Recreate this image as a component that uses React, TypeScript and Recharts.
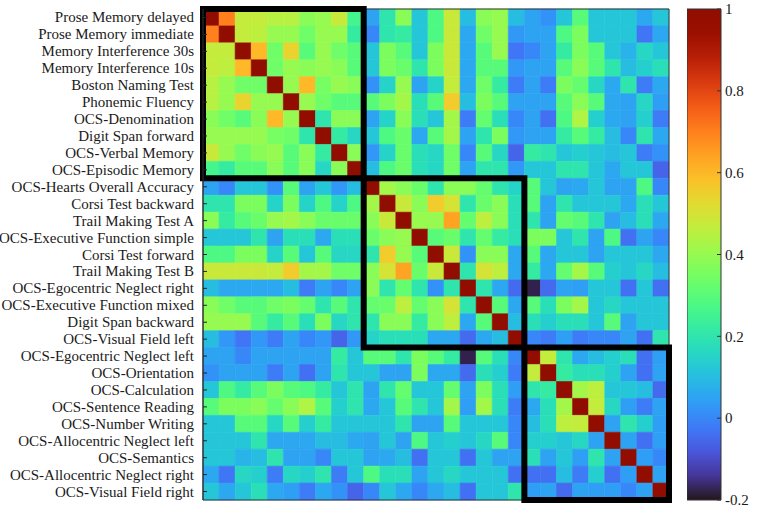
import React from 'react';
import { BarChart, Bar, Cell, XAxis, YAxis, ReferenceArea } from 'recharts';

// variable names, top row to bottom row (and left to right columns)
const labels = [
  'Prose Memory delayed',
  'Prose Memory immediate',
  'Memory Interference 30s',
  'Memory Interference 10s',
  'Boston Naming Test',
  'Phonemic Fluency',
  'OCS-Denomination',
  'Digit Span forward',
  'OCS-Verbal Memory',
  'OCS-Episodic Memory',
  'OCS-Hearts Overall Accuracy',
  'Corsi Test backward',
  'Trail Making Test A',
  'OCS-Executive Function simple',
  'Corsi Test forward',
  'Trail Making Test B',
  'OCS-Egocentric Neglect right',
  'OCS-Executive Function mixed',
  'Digit Span backward',
  'OCS-Visual Field left',
  'OCS-Egocentric Neglect left',
  'OCS-Orientation',
  'OCS-Calculation',
  'OCS-Sentence Reading',
  'OCS-Number Writing',
  'OCS-Allocentric Neglect left',
  'OCS-Semantics',
  'OCS-Allocentric Neglect right',
  'OCS-Visual Field right',
];

// correlations below the diagonal: row i (from 1) holds columns 0..i-1
const lowerTriangle: number[][] = [
  [0.7],
  [0.47, 0.47],
  [0.47, 0.46, 0.6],
  [0.45, 0.4, 0.34, 0.34],
  [0.45, 0.4, 0.54, 0.4, 0.4],
  [0.38, 0.34, 0.3, 0.38, 0.6, 0.4],
  [0.4, 0.4, 0.4, 0.4, 0.35, 0.34, 0.2],
  [0.48, 0.4, 0.34, 0.38, 0.4, 0.3, 0.38, 0.22],
  [0.26, 0.22, 0.3, 0.3, 0.38, 0.3, 0.38, 0.16, 0.38],
  [0.05, 0.0, 0.12, 0.12, 0.02, 0.3, 0.05, 0.12, 0.03, 0.1],
  [0.2, 0.2, 0.36, 0.36, 0.15, 0.36, 0.15, 0.28, 0.15, 0.28, 0.42],
  [0.38, 0.22, 0.3, 0.33, 0.4, 0.42, 0.38, 0.33, 0.33, 0.33, 0.38, 0.48],
  [0.12, 0.12, 0.12, 0.2, 0.05, 0.18, 0.18, 0.06, 0.18, 0.18, 0.33, 0.38, 0.4],
  [0.28, 0.28, 0.36, 0.36, 0.15, 0.3, 0.12, 0.3, 0.16, 0.16, 0.2, 0.56, 0.4, 0.3],
  [0.48, 0.48, 0.48, 0.48, 0.47, 0.56, 0.42, 0.42, 0.34, 0.34, 0.38, 0.5, 0.64, 0.33, 0.48],
  [0.1, 0.06, 0.06, 0.06, 0.06, 0.1, -0.02, 0.05, 0.0, 0.05, 0.38, 0.2, 0.32, 0.2, 0.02, 0.2],
  [0.38, 0.34, 0.3, 0.3, 0.34, 0.36, 0.32, 0.2, 0.3, 0.2, 0.32, 0.33, 0.46, 0.32, 0.38, 0.5, 0.2],
  [0.4, 0.4, 0.4, 0.3, 0.22, 0.3, 0.18, 0.36, 0.16, 0.2, 0.2, 0.38, 0.38, 0.22, 0.38, 0.46, 0.06, 0.3],
  [0.1, 0.03, -0.03, 0.03, -0.02, 0.05, 0.0, 0.03, -0.06, 0.03, 0.15, 0.18, 0.18, 0.18, 0.06, 0.06, -0.05, 0.06, 0.1],
  [0.05, 0.05, 0.0, 0.05, 0.05, 0.05, 0.05, 0.05, 0.22, 0.12, 0.3, 0.3, 0.2, 0.36, 0.3, 0.22, -0.18, 0.3, 0.18, 0.0],
  [0.02, 0.05, 0.05, 0.05, -0.02, 0.05, -0.04, 0.05, 0.2, 0.12, 0.12, 0.05, 0.05, 0.36, 0.06, 0.06, -0.05, 0.18, 0.14, -0.02, 0.47],
  [0.12, 0.28, 0.22, 0.3, 0.36, 0.3, 0.28, 0.22, 0.12, 0.2, 0.05, 0.2, 0.32, 0.12, 0.12, 0.32, 0.05, 0.36, 0.18, 0.04, 0.2, 0.22],
  [0.3, 0.36, 0.36, 0.38, 0.32, 0.38, 0.44, 0.3, 0.14, 0.2, 0.06, 0.12, 0.3, 0.2, 0.12, 0.42, 0.04, 0.42, 0.18, -0.02, 0.06, 0.18, 0.42],
  [0.12, 0.12, 0.3, 0.3, 0.16, 0.3, 0.14, 0.22, 0.12, 0.12, 0.12, 0.12, 0.2, 0.05, 0.05, 0.3, 0.12, 0.12, 0.12, 0.0, 0.1, 0.18, 0.46, 0.47],
  [0.12, 0.12, 0.12, 0.2, 0.06, 0.06, 0.06, 0.1, 0.1, 0.06, 0.05, 0.12, 0.05, 0.28, 0.12, 0.14, 0.12, 0.16, 0.3, 0.0, 0.14, 0.14, 0.12, 0.16, 0.05],
  [0.12, 0.12, 0.08, 0.1, 0.2, 0.05, 0.05, 0.0, 0.12, 0.12, 0.05, 0.06, 0.1, -0.04, 0.12, 0.12, -0.04, 0.12, 0.05, 0.05, 0.18, 0.05, 0.12, 0.04, 0.2, 0.05],
  [0.06, -0.03, 0.16, 0.14, -0.02, 0.16, 0.14, 0.2, -0.02, 0.12, 0.28, 0.18, 0.18, 0.05, 0.12, 0.16, 0.12, 0.12, 0.12, -0.04, -0.04, -0.04, 0.1, -0.02, 0.14, -0.04, 0.04],
  [0.12, 0.06, 0.12, 0.18, 0.06, 0.04, -0.02, 0.06, 0.02, -0.06, 0.0, 0.12, 0.06, 0.0, 0.06, 0.1, -0.04, 0.12, 0.12, 0.2, 0.04, 0.05, -0.05, 0.05, 0.04, 0.04, 0.0, 0.05],
];

// outlined clusters: first and last index of each block
const clusters = [
  [0, 9],
  [10, 19],
  [20, 28],
];

const colorbarTicks = [-0.2, 0, 0.2, 0.4, 0.6, 0.8, 1];
const colorMin = -0.2;
const colorMax = 1;

// turbo colormap, polynomial approximation
function turbo(t: number) {
  const x = Math.max(0, Math.min(1, t));
  const r = 0.13572138 + x * (4.6153926 + x * (-42.66032258 + x * (132.13108234 + x * (-152.94239396 + x * 59.28637943))));
  const g = 0.09140261 + x * (2.19418839 + x * (4.84296658 + x * (-14.18503333 + x * (4.27729857 + x * 2.82956604))));
  const b = 0.1066733 + x * (12.64194608 + x * (-60.58204836 + x * (110.36276771 + x * (-89.90310912 + x * 27.34824973))));
  const c = (v: number) => Math.round(255 * Math.max(0, Math.min(1, v)));
  return `rgb(${c(r)},${c(g)},${c(b)})`;
}

const valueColor = (v: number) => turbo((v - colorMin) / (colorMax - colorMin));

const matrix = labels.map((_, i) =>
  labels.map((_, j) => (i === j ? 1 : i > j ? lowerTriangle[i - 1][j] : lowerTriangle[j - 1][i]))
);

// one stacked column per variable, every row one unit tall
const columns = labels.map((name, j) => {
  const row: Record<string, string | number> = { col: name };
  labels.forEach((_, i) => {
    row[`r${i}`] = 1;
  });
  return row;
});

const rowTicks = labels.map((_, i) => i + 0.5);
const font = 'Liberation Serif, DejaVu Serif, serif';
const gradientStops = Array.from({ length: 21 }, (_, k) => k / 20);

const W = 680;
const H = 513;
const margin = { top: 9, right: 11, bottom: 13, left: 0 };
const labelWidth = 203;

// single-line label, no wrapping
const RowLabel = (props: any) => {
  const { x, y, payload } = props;
  return (
    <text x={x} y={y} textAnchor="end" dominantBaseline="central" fontSize={15} fill="#1a1a1a" fontFamily={font}>
      {labels[Math.floor(payload.value)]}
    </text>
  );
};

const App: React.FC = () => {
  return (
    <div style={{ position: 'absolute', left: 0, top: 0, width: 759, height: 513, background: '#fff', fontFamily: font }}>
      {/* cells */}
      <div style={{ position: 'absolute', left: 0, top: 0 }}>
        <BarChart
          width={W}
          height={H}
          data={columns}
          margin={{ ...margin, left: labelWidth }}
          barCategoryGap={0}
          barGap={0}
        >
          <XAxis dataKey="col" type="category" hide />
          <YAxis type="number" domain={[0, labels.length]} reversed hide />
          {labels.map((_, i) => (
            <Bar key={i} dataKey={`r${i}`} stackId="m" isAnimationActive={false}>
              {columns.map((_, j) => (
                <Cell key={j} fill={valueColor(matrix[i][j])} stroke={valueColor(matrix[i][j])} strokeWidth={0.6} />
              ))}
            </Bar>
          ))}
        </BarChart>
      </div>
      {/* axes, frame and cluster boxes on top */}
      <div style={{ position: 'absolute', left: 0, top: 0 }}>
        <BarChart width={W} height={H} data={columns} margin={margin} barCategoryGap={0}>
          <XAxis dataKey="col" type="category" hide />
          <Bar dataKey="r0" fill="none" fillOpacity={0} isAnimationActive={false} />
          <YAxis
            type="number"
            domain={[0, labels.length]}
            reversed
            ticks={rowTicks}
            interval={0}
            width={labelWidth}
            tickSize={-4}
            tickMargin={13}
            tick={<RowLabel />}
            axisLine={{ stroke: '#333' }}
            tickLine={{ stroke: '#222' }}
          />
          <YAxis
            yAxisId="right"
            orientation="right"
            type="number"
            domain={[0, labels.length]}
            reversed
            ticks={rowTicks}
            interval={0}
            width={0}
            tickSize={-4}
            tick={false}
            axisLine={{ stroke: '#333' }}
            tickLine={{ stroke: '#222' }}
          />
          <ReferenceArea
            x1={labels[0]}
            x2={labels[labels.length - 1]}
            y1={0}
            y2={labels.length}
            ifOverflow="visible"
            fill="none"
            fillOpacity={0}
            stroke="#333"
            strokeWidth={1}
          />
          {clusters.map(([a, b]) => (
            <ReferenceArea
              key={`box-${a}`}
              x1={labels[a]}
              x2={labels[b]}
              y1={a}
              y2={b + 1}
              ifOverflow="visible"
              fill="none"
              fillOpacity={0}
              stroke="#000"
              strokeWidth={6}
            />
          ))}
        </BarChart>
      </div>
      {/* colour bar */}
      <div style={{ position: 'absolute', left: 687, top: 0 }}>
        <BarChart
          width={72}
          height={513}
          data={[{ name: 'scale', range: [colorMin, colorMax] }]}
          margin={{ top: 9, right: 0, bottom: 13, left: 0 }}
          barCategoryGap={0}
        >
          <defs>
            <linearGradient id="turboBar" x1="0" y1="1" x2="0" y2="0">
              {gradientStops.map((t) => (
                <stop key={t} offset={`${t * 100}%`} stopColor={turbo(t)} />
              ))}
            </linearGradient>
          </defs>
          <XAxis dataKey="name" hide />
          <Bar dataKey="range" fill="url(#turboBar)" stroke="#333" strokeWidth={1} isAnimationActive={false} />
          <YAxis
            orientation="right"
            type="number"
            domain={[colorMin, colorMax]}
            ticks={colorbarTicks}
            interval={0}
            width={38}
            tickSize={-4}
            tickMargin={8}
            axisLine={false}
            tickLine={{ stroke: '#333' }}
            tick={{ fontSize: 15, fill: '#1a1a1a', fontFamily: font }}
          />
        </BarChart>
      </div>
    </div>
  );
};

export default App;
